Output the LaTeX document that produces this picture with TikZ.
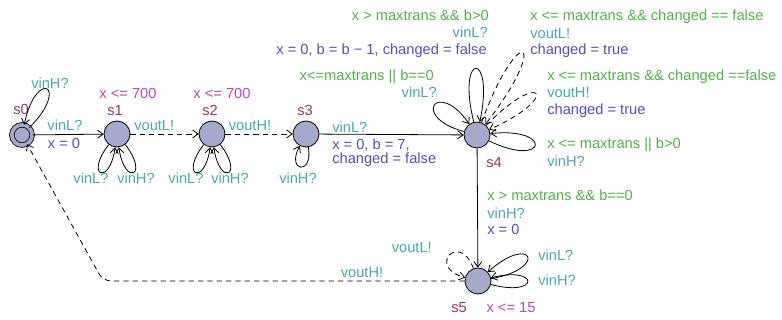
\documentclass[tikz,border=0pt]{standalone}
\usepackage{fontspec}
\setmainfont{Liberation Sans}
\usetikzlibrary{arrows.meta}
\definecolor{stfill}{RGB}{165,170,205}
\definecolor{cname}{RGB}{160,50,100}
\definecolor{cinv}{RGB}{190,70,190}
\definecolor{cgrd}{RGB}{80,180,70}
\definecolor{csyn}{RGB}{70,170,180}
\definecolor{cupd}{RGB}{80,80,190}

\begin{document}
\begin{tikzpicture}[x=0.75pt,y=-0.75pt,>={Straight Barb[length=4pt,width=6pt]},
  loc/.style={circle, draw, fill=stfill, minimum size=19.5pt, inner sep=0pt, line width=0.6pt},
  lbl/.style={inner sep=0pt, text height=8pt, text depth=0pt, font=\fontsize{11}{13}\selectfont},
  locname/.style={lbl, text=cname}, inv/.style={lbl, text=cinv}, grd/.style={lbl, text=cgrd},
  syn/.style={lbl, text=csyn}, upd/.style={lbl, text=cupd},
  tr/.style={->, line width=0.6pt}, trd/.style={tr, dash pattern=on 4pt off 3pt}]
  \useasboundingbox (0,0) rectangle (782,320);

  % locations
  \node[loc, minimum size=15.2pt, double=stfill, double distance=2.8pt] (s0) at (22,135) {};
  \node[loc] (s1) at (117,134) {};
  \node[loc] (s2) at (212,134) {};
  \node[loc] (s3) at (306,134) {};
  \node[loc] (s4) at (477,135) {};
  \node[loc] (s5) at (478,281) {};

  \node[locname] (n0) at (21,109) {s0};
  \node[locname] (n1) at (115,110) {s1};
  \node[locname] (n2) at (210,110) {s2};
  \node[locname] (n3) at (305,110) {s3};
  \node[locname] (n4) at (494,162) {s4};
  \node[locname] (n5) at (459,307) {s5};
  \node[inv] (i1) at (128,93) {x <= 700};
  \node[inv] (i2) at (222,93) {x <= 700};
  \node[inv] (i5) at (511,307) {x <= 15};

  % main transitions
  \draw[tr] (s0) -- (s1);
  \node[syn] (l01a) at (65,125) {vinL?};
  \node[upd] (l01b) at (64,143) {x = 0};
  \draw[trd] (s1) -- (s2);
  \node[syn, anchor=west] (l12) at (134,125) {voutL!};
  \draw[trd] (s2) -- (s3);
  \node[syn] (l23) at (250,125) {voutH!};
  \draw[tr] (s3) -- (s4);
  \node[syn, anchor=west] (l34a) at (332,127) {vinL?};
  \node[upd, anchor=west] (l34b) at (332,144) {x = 0, b = 7,};
  \node[upd, anchor=west] (l34c) at (332,158) {changed = false};
  \draw[tr] (s4) -- (s5);
  \node[grd, anchor=west] (l45a) at (487,195) {x > maxtrans \&\& b==0};
  \node[syn, anchor=west] (l45b) at (487,213) {vinH?};
  \node[upd, anchor=west] (l45c) at (487,229) {x = 0};
  \coordinate (c50) at (103,281);
  \draw[trd, rounded corners=6pt] (s5) -- (c50) -- (s0);
  \node[syn] (l50) at (362,272) {voutH!};

  % self loops
  \draw[tr] (s0) to[out=45, in=78, distance=44pt] (s0);
  \node[syn] (l00) at (50,83) {vinH?};
  \draw[tr] (s1) to[out=-128, in=-98, distance=30pt] (s1);
  \draw[tr] (s1) to[out=-52, in=-82, distance=30pt] (s1);
  \node[syn] (l11a) at (91,178) {vinL?};
  \node[syn] (l11b) at (136,178) {vinH?};
  \draw[tr] (s2) to[out=-128, in=-98, distance=30pt] (s2);
  \draw[tr] (s2) to[out=-52, in=-82, distance=30pt] (s2);
  \node[syn] (l22a) at (186,178) {vinL?};
  \node[syn] (l22b) at (230,178) {vinH?};
  \draw[tr] (s3) to[out=-80, in=-118, distance=22pt] (s3);
  \node[syn] (l33) at (298,178) {vinH?};

  \draw[tr] (s4) to[out=165, in=125, distance=42pt] (s4);
  \node[grd, anchor=east] (l44a) at (434,75) {x<=maxtrans || b==0};
  \node[syn, anchor=east] (l44b) at (437,92) {vinL?};
  \draw[tr] (s4) to[out=104, in=78, distance=55pt] (s4);
  \node[grd, anchor=east] (l44c) at (489,15) {x > maxtrans \&\& b>0};
  \node[syn, anchor=east] (l44d) at (488,32) {vinL?};
  \node[upd, anchor=east] (l44e) at (487,49) {x = 0, b = b − 1, changed = false};
  \draw[trd] (s4) to[out=70, in=52, distance=82pt] (s4);
  \node[grd, anchor=west] (l44f) at (530,15) {x <= maxtrans \&\& changed == false};
  \node[syn, anchor=west] (l44g) at (530,33) {voutL!};
  \node[upd, anchor=west] (l44h) at (530,49) {changed = true};
  \draw[trd] (s4) to[out=46, in=24, distance=60pt] (s4);
  \node[grd, anchor=west] (l44i) at (547,75) {x <= maxtrans \&\& changed ==false};
  \node[syn, anchor=west] (l44j) at (547,92) {voutH!};
  \node[upd, anchor=west] (l44k) at (547,109) {changed = true};
  \draw[tr] (s4) to[out=-26, in=6, distance=48pt] (s4);
  \node[grd, anchor=west] (l44l) at (547,143) {x <= maxtrans || b>0};
  \node[syn, anchor=west] (l44m) at (547,161) {vinH?};

  \draw[trd] (s5) to[out=110, in=165, distance=30pt] (s5);
  \node[syn, anchor=east] (l55a) at (432,247) {voutL!};
  \draw[tr] (s5) to[out=10, in=42, distance=44pt] (s5);
  \node[syn, anchor=west] (l55b) at (538,255) {vinL?};
  \draw[tr] (s5) to[out=-15, in=14, distance=38pt] (s5);
  \node[syn, anchor=west] (l55c) at (538,280) {vinH?};
\end{tikzpicture}
\end{document}
